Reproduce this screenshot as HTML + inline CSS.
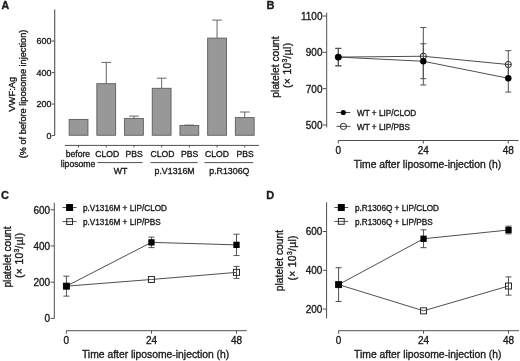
<!DOCTYPE html>
<html><head><meta charset="utf-8"><style>
html,body{margin:0;padding:0;background:#fff;}
body{width:520px;height:361px;overflow:hidden;}
svg{display:block;filter:grayscale(1);font-family:"Liberation Sans", sans-serif;}
</style></head><body>
<svg width="520" height="361" viewBox="0 0 520 361" shape-rendering="auto">
<rect width="520" height="361" fill="#fff"/>
<text x="1.40" y="9.40" font-size="10.6" text-anchor="start" font-weight="bold" fill="#1c1c1c" stroke="#1c1c1c" stroke-width="0.35">A</text>
<line x1="54.70" y1="9.50" x2="54.70" y2="135.60" stroke="#505050" stroke-width="1.1"/>
<line x1="52.00" y1="135.55" x2="54.70" y2="135.55" stroke="#505050" stroke-width="1.0"/>
<text x="51.50" y="138.75" font-size="9" text-anchor="end" font-weight="normal" fill="#1c1c1c" stroke="#1c1c1c" stroke-width="0.35">0</text>
<line x1="52.00" y1="104.05" x2="54.70" y2="104.05" stroke="#505050" stroke-width="1.0"/>
<text x="51.50" y="107.25" font-size="9" text-anchor="end" font-weight="normal" fill="#1c1c1c" stroke="#1c1c1c" stroke-width="0.35">200</text>
<line x1="52.00" y1="72.55" x2="54.70" y2="72.55" stroke="#505050" stroke-width="1.0"/>
<text x="51.50" y="75.75" font-size="9" text-anchor="end" font-weight="normal" fill="#1c1c1c" stroke="#1c1c1c" stroke-width="0.35">400</text>
<line x1="52.00" y1="41.05" x2="54.70" y2="41.05" stroke="#505050" stroke-width="1.0"/>
<text x="51.50" y="44.25" font-size="9" text-anchor="end" font-weight="normal" fill="#1c1c1c" stroke="#1c1c1c" stroke-width="0.35">600</text>
<text x="15.30" y="94.20" font-size="9.4" text-anchor="middle" font-weight="normal" fill="#1c1c1c" stroke="#1c1c1c" stroke-width="0.35" transform="rotate(-90 15.30 94.20)">VWF:Ag</text>
<text x="25.80" y="94.00" font-size="9.2" text-anchor="middle" font-weight="normal" fill="#1c1c1c" stroke="#1c1c1c" stroke-width="0.35" transform="rotate(-90 25.80 94.00)">(% of before liposome injection)</text>
<rect x="69.15" y="119.40" width="18.80" height="15.85" fill="#989898" stroke="#5c5c5c" stroke-width="0.9"/>
<line x1="106.25" y1="62.40" x2="106.25" y2="83.70" stroke="#666" stroke-width="1.0"/>
<line x1="101.45" y1="62.40" x2="111.05" y2="62.40" stroke="#666" stroke-width="1.0"/>
<rect x="96.85" y="83.70" width="18.80" height="51.55" fill="#989898" stroke="#5c5c5c" stroke-width="0.9"/>
<line x1="133.95" y1="116.10" x2="133.95" y2="118.40" stroke="#666" stroke-width="1.0"/>
<line x1="129.15" y1="116.10" x2="138.75" y2="116.10" stroke="#666" stroke-width="1.0"/>
<rect x="124.55" y="118.40" width="18.80" height="16.85" fill="#989898" stroke="#5c5c5c" stroke-width="0.9"/>
<line x1="161.65" y1="78.20" x2="161.65" y2="88.30" stroke="#666" stroke-width="1.0"/>
<line x1="156.85" y1="78.20" x2="166.45" y2="78.20" stroke="#666" stroke-width="1.0"/>
<rect x="152.25" y="88.30" width="18.80" height="46.95" fill="#989898" stroke="#5c5c5c" stroke-width="0.9"/>
<line x1="189.35" y1="125.10" x2="189.35" y2="125.50" stroke="#666" stroke-width="1.0"/>
<line x1="184.55" y1="125.10" x2="194.15" y2="125.10" stroke="#666" stroke-width="1.0"/>
<rect x="179.95" y="125.50" width="18.80" height="9.75" fill="#989898" stroke="#5c5c5c" stroke-width="0.9"/>
<line x1="217.05" y1="20.10" x2="217.05" y2="38.10" stroke="#666" stroke-width="1.0"/>
<line x1="212.25" y1="20.10" x2="221.85" y2="20.10" stroke="#666" stroke-width="1.0"/>
<rect x="207.65" y="38.10" width="18.80" height="97.15" fill="#989898" stroke="#5c5c5c" stroke-width="0.9"/>
<line x1="244.75" y1="112.00" x2="244.75" y2="117.60" stroke="#666" stroke-width="1.0"/>
<line x1="239.95" y1="112.00" x2="249.55" y2="112.00" stroke="#666" stroke-width="1.0"/>
<rect x="235.35" y="117.60" width="18.80" height="17.65" fill="#989898" stroke="#5c5c5c" stroke-width="0.9"/>
<line x1="64.80" y1="145.40" x2="259.00" y2="145.40" stroke="#505050" stroke-width="1"/>
<line x1="78.55" y1="145.40" x2="78.55" y2="147.40" stroke="#505050" stroke-width="1"/>
<text x="77.90" y="156.50" font-size="8.6" text-anchor="middle" font-weight="normal" fill="#1c1c1c" stroke="#1c1c1c" stroke-width="0.35">before</text>
<line x1="106.25" y1="145.40" x2="106.25" y2="147.40" stroke="#505050" stroke-width="1"/>
<text x="107.30" y="156.50" font-size="8.6" text-anchor="middle" font-weight="normal" fill="#1c1c1c" stroke="#1c1c1c" stroke-width="0.35">CLOD</text>
<line x1="133.95" y1="145.40" x2="133.95" y2="147.40" stroke="#505050" stroke-width="1"/>
<text x="134.20" y="156.50" font-size="8.6" text-anchor="middle" font-weight="normal" fill="#1c1c1c" stroke="#1c1c1c" stroke-width="0.35">PBS</text>
<line x1="161.65" y1="145.40" x2="161.65" y2="147.40" stroke="#505050" stroke-width="1"/>
<text x="162.50" y="156.50" font-size="8.6" text-anchor="middle" font-weight="normal" fill="#1c1c1c" stroke="#1c1c1c" stroke-width="0.35">CLOD</text>
<line x1="189.35" y1="145.40" x2="189.35" y2="147.40" stroke="#505050" stroke-width="1"/>
<text x="189.60" y="156.50" font-size="8.6" text-anchor="middle" font-weight="normal" fill="#1c1c1c" stroke="#1c1c1c" stroke-width="0.35">PBS</text>
<line x1="217.05" y1="145.40" x2="217.05" y2="147.40" stroke="#505050" stroke-width="1"/>
<text x="217.00" y="156.50" font-size="8.6" text-anchor="middle" font-weight="normal" fill="#1c1c1c" stroke="#1c1c1c" stroke-width="0.35">CLOD</text>
<line x1="244.75" y1="145.40" x2="244.75" y2="147.40" stroke="#505050" stroke-width="1"/>
<text x="245.10" y="156.50" font-size="8.6" text-anchor="middle" font-weight="normal" fill="#1c1c1c" stroke="#1c1c1c" stroke-width="0.35">PBS</text>
<text x="78.00" y="166.60" font-size="8.6" text-anchor="middle" font-weight="normal" fill="#1c1c1c" stroke="#1c1c1c" stroke-width="0.35">liposome</text>
<line x1="97.50" y1="162.60" x2="142.50" y2="162.60" stroke="#505050" stroke-width="1"/>
<text x="120.50" y="173.80" font-size="8.8" text-anchor="middle" font-weight="normal" fill="#1c1c1c" stroke="#1c1c1c" stroke-width="0.35">WT</text>
<line x1="150.50" y1="162.60" x2="197.70" y2="162.60" stroke="#505050" stroke-width="1"/>
<text x="174.60" y="173.80" font-size="8.8" text-anchor="middle" font-weight="normal" fill="#1c1c1c" stroke="#1c1c1c" stroke-width="0.35">p.V1316M</text>
<line x1="204.50" y1="162.60" x2="253.20" y2="162.60" stroke="#505050" stroke-width="1"/>
<text x="229.35" y="173.80" font-size="8.8" text-anchor="middle" font-weight="normal" fill="#1c1c1c" stroke="#1c1c1c" stroke-width="0.35">p.R1306Q</text>
<text x="266.60" y="9.20" font-size="11" text-anchor="start" font-weight="bold" fill="#1c1c1c" stroke="#1c1c1c" stroke-width="0.35">B</text>
<line x1="326.70" y1="12.60" x2="326.70" y2="127.40" stroke="#505050" stroke-width="1"/>
<line x1="322.90" y1="16.00" x2="326.70" y2="16.00" stroke="#505050" stroke-width="1"/>
<text x="322.50" y="19.90" font-size="10" text-anchor="end" font-weight="normal" fill="#1c1c1c" stroke="#1c1c1c" stroke-width="0.35">1100</text>
<line x1="322.90" y1="52.33" x2="326.70" y2="52.33" stroke="#505050" stroke-width="1"/>
<text x="322.50" y="56.23" font-size="10" text-anchor="end" font-weight="normal" fill="#1c1c1c" stroke="#1c1c1c" stroke-width="0.35">900</text>
<line x1="322.90" y1="88.67" x2="326.70" y2="88.67" stroke="#505050" stroke-width="1"/>
<text x="322.50" y="92.57" font-size="10" text-anchor="end" font-weight="normal" fill="#1c1c1c" stroke="#1c1c1c" stroke-width="0.35">700</text>
<line x1="322.90" y1="125.00" x2="326.70" y2="125.00" stroke="#505050" stroke-width="1"/>
<text x="322.50" y="128.90" font-size="10" text-anchor="end" font-weight="normal" fill="#1c1c1c" stroke="#1c1c1c" stroke-width="0.35">500</text>
<line x1="338.30" y1="140.50" x2="518.60" y2="140.50" stroke="#505050" stroke-width="1"/>
<line x1="338.30" y1="140.50" x2="338.30" y2="143.50" stroke="#505050" stroke-width="1"/>
<text x="338.30" y="154.20" font-size="10" text-anchor="middle" font-weight="normal" fill="#1c1c1c" stroke="#1c1c1c" stroke-width="0.35">0</text>
<line x1="423.30" y1="140.50" x2="423.30" y2="143.50" stroke="#505050" stroke-width="1"/>
<text x="423.30" y="154.20" font-size="10" text-anchor="middle" font-weight="normal" fill="#1c1c1c" stroke="#1c1c1c" stroke-width="0.35">24</text>
<line x1="508.30" y1="140.50" x2="508.30" y2="143.50" stroke="#505050" stroke-width="1"/>
<text x="508.30" y="154.20" font-size="10" text-anchor="middle" font-weight="normal" fill="#1c1c1c" stroke="#1c1c1c" stroke-width="0.35">48</text>
<text x="427.50" y="168.10" font-size="10.35" text-anchor="middle" font-weight="normal" fill="#1c1c1c" stroke="#1c1c1c" stroke-width="0.35">Time after liposome-injection (h)</text>
<text x="278.90" y="67.00" font-size="10.3" text-anchor="middle" font-weight="normal" fill="#1c1c1c" stroke="#1c1c1c" stroke-width="0.35" transform="rotate(-90 278.90 67.00)">platelet count</text>
<text x="290.70" y="65.40" font-size="10.3" text-anchor="middle" font-weight="normal" fill="#1c1c1c" stroke="#1c1c1c" stroke-width="0.35" transform="rotate(-90 290.70 65.40)" textLength="45" lengthAdjust="spacing">(× 10<tspan font-size="6.8" dy="-3.6">3</tspan><tspan dy="3.6">/µl)</tspan></text>
<polyline points="338.30,57.09 423.30,56.26 508.30,64.51" fill="none" stroke="#505050" stroke-width="1"/>
<polyline points="338.30,57.09 423.30,61.25 508.30,78.26" fill="none" stroke="#505050" stroke-width="1"/>
<line x1="338.30" y1="48.37" x2="338.30" y2="65.81" stroke="#505050" stroke-width="1"/>
<line x1="335.30" y1="48.37" x2="341.30" y2="48.37" stroke="#505050" stroke-width="1"/>
<line x1="335.30" y1="65.81" x2="341.30" y2="65.81" stroke="#505050" stroke-width="1"/>
<line x1="423.30" y1="27.55" x2="423.30" y2="84.96" stroke="#505050" stroke-width="1"/>
<line x1="420.30" y1="27.55" x2="426.30" y2="27.55" stroke="#505050" stroke-width="1"/>
<line x1="420.30" y1="84.96" x2="426.30" y2="84.96" stroke="#505050" stroke-width="1"/>
<line x1="508.30" y1="50.70" x2="508.30" y2="78.31" stroke="#505050" stroke-width="1"/>
<line x1="505.30" y1="50.70" x2="511.30" y2="50.70" stroke="#505050" stroke-width="1"/>
<line x1="505.30" y1="78.31" x2="511.30" y2="78.31" stroke="#505050" stroke-width="1"/>
<line x1="338.30" y1="48.37" x2="338.30" y2="65.81" stroke="#505050" stroke-width="1"/>
<line x1="335.30" y1="48.37" x2="341.30" y2="48.37" stroke="#505050" stroke-width="1"/>
<line x1="335.30" y1="65.81" x2="341.30" y2="65.81" stroke="#505050" stroke-width="1"/>
<line x1="423.30" y1="43.81" x2="423.30" y2="78.69" stroke="#505050" stroke-width="1"/>
<line x1="420.30" y1="43.81" x2="426.30" y2="43.81" stroke="#505050" stroke-width="1"/>
<line x1="420.30" y1="78.69" x2="426.30" y2="78.69" stroke="#505050" stroke-width="1"/>
<line x1="508.30" y1="64.45" x2="508.30" y2="92.07" stroke="#505050" stroke-width="1"/>
<line x1="505.30" y1="64.45" x2="511.30" y2="64.45" stroke="#505050" stroke-width="1"/>
<line x1="505.30" y1="92.07" x2="511.30" y2="92.07" stroke="#505050" stroke-width="1"/>
<circle cx="338.30" cy="57.09" r="3.10" fill="none" stroke="#2a2a2a" stroke-width="1"/>
<circle cx="423.30" cy="56.26" r="3.10" fill="none" stroke="#2a2a2a" stroke-width="1"/>
<circle cx="508.30" cy="64.51" r="3.10" fill="none" stroke="#2a2a2a" stroke-width="1"/>
<circle cx="338.30" cy="57.09" r="3.20" fill="#000"/>
<circle cx="423.30" cy="61.25" r="3.20" fill="#000"/>
<circle cx="508.30" cy="78.26" r="3.20" fill="#000"/>
<line x1="336.30" y1="112.50" x2="350.30" y2="112.50" stroke="#505050" stroke-width="1"/>
<circle cx="343.30" cy="112.50" r="2.60" fill="#000"/>
<text x="357.00" y="116.10" font-size="8.2" text-anchor="start" font-weight="normal" fill="#1c1c1c" stroke="#1c1c1c" stroke-width="0.35">WT + LIP/CLOD</text>
<line x1="336.40" y1="126.40" x2="350.40" y2="126.40" stroke="#505050" stroke-width="1"/>
<circle cx="343.40" cy="126.40" r="3.10" fill="none" stroke="#2a2a2a" stroke-width="1"/>
<text x="357.00" y="130.00" font-size="8.2" text-anchor="start" font-weight="normal" fill="#1c1c1c" stroke="#1c1c1c" stroke-width="0.35">WT + LIP/PBS</text>
<text x="1.00" y="198.80" font-size="11" text-anchor="start" font-weight="bold" fill="#1c1c1c" stroke="#1c1c1c" stroke-width="0.35">C</text>
<line x1="54.30" y1="202.80" x2="54.30" y2="318.50" stroke="#505050" stroke-width="1"/>
<line x1="50.50" y1="318.40" x2="54.30" y2="318.40" stroke="#505050" stroke-width="1"/>
<text x="50.10" y="322.30" font-size="10" text-anchor="end" font-weight="normal" fill="#1c1c1c" stroke="#1c1c1c" stroke-width="0.35">0</text>
<line x1="50.50" y1="282.18" x2="54.30" y2="282.18" stroke="#505050" stroke-width="1"/>
<text x="50.10" y="286.08" font-size="10" text-anchor="end" font-weight="normal" fill="#1c1c1c" stroke="#1c1c1c" stroke-width="0.35">200</text>
<line x1="50.50" y1="245.96" x2="54.30" y2="245.96" stroke="#505050" stroke-width="1"/>
<text x="50.10" y="249.86" font-size="10" text-anchor="end" font-weight="normal" fill="#1c1c1c" stroke="#1c1c1c" stroke-width="0.35">400</text>
<line x1="50.50" y1="209.74" x2="54.30" y2="209.74" stroke="#505050" stroke-width="1"/>
<text x="50.10" y="213.64" font-size="10" text-anchor="end" font-weight="normal" fill="#1c1c1c" stroke="#1c1c1c" stroke-width="0.35">600</text>
<line x1="66.40" y1="330.70" x2="246.80" y2="330.70" stroke="#505050" stroke-width="1"/>
<line x1="66.40" y1="330.70" x2="66.40" y2="333.70" stroke="#505050" stroke-width="1"/>
<text x="66.40" y="344.40" font-size="10" text-anchor="middle" font-weight="normal" fill="#1c1c1c" stroke="#1c1c1c" stroke-width="0.35">0</text>
<line x1="151.45" y1="330.70" x2="151.45" y2="333.70" stroke="#505050" stroke-width="1"/>
<text x="151.45" y="344.40" font-size="10" text-anchor="middle" font-weight="normal" fill="#1c1c1c" stroke="#1c1c1c" stroke-width="0.35">24</text>
<line x1="236.50" y1="330.70" x2="236.50" y2="333.70" stroke="#505050" stroke-width="1"/>
<text x="236.50" y="344.40" font-size="10" text-anchor="middle" font-weight="normal" fill="#1c1c1c" stroke="#1c1c1c" stroke-width="0.35">48</text>
<text x="155.60" y="358.30" font-size="10.35" text-anchor="middle" font-weight="normal" fill="#1c1c1c" stroke="#1c1c1c" stroke-width="0.35">Time after liposome-injection (h)</text>
<text x="11.20" y="257.00" font-size="10.3" text-anchor="middle" font-weight="normal" fill="#1c1c1c" stroke="#1c1c1c" stroke-width="0.35" transform="rotate(-90 11.20 257.00)">platelet count</text>
<text x="23.00" y="255.40" font-size="10.3" text-anchor="middle" font-weight="normal" fill="#1c1c1c" stroke="#1c1c1c" stroke-width="0.35" transform="rotate(-90 23.00 255.40)" textLength="45" lengthAdjust="spacing">(× 10<tspan font-size="6.8" dy="-3.6">3</tspan><tspan dy="3.6">/µl)</tspan></text>
<polyline points="66.40,286.16 151.45,279.48 236.50,272.38" fill="none" stroke="#505050" stroke-width="1"/>
<polyline points="66.40,286.16 151.45,242.36 236.50,244.87" fill="none" stroke="#505050" stroke-width="1"/>
<line x1="236.50" y1="266.41" x2="236.50" y2="278.36" stroke="#505050" stroke-width="1"/>
<line x1="233.50" y1="266.41" x2="239.50" y2="266.41" stroke="#505050" stroke-width="1"/>
<line x1="233.50" y1="278.36" x2="239.50" y2="278.36" stroke="#505050" stroke-width="1"/>
<line x1="66.40" y1="276.20" x2="66.40" y2="296.12" stroke="#505050" stroke-width="1"/>
<line x1="63.40" y1="276.20" x2="69.40" y2="276.20" stroke="#505050" stroke-width="1"/>
<line x1="63.40" y1="296.12" x2="69.40" y2="296.12" stroke="#505050" stroke-width="1"/>
<line x1="151.45" y1="237.10" x2="151.45" y2="247.61" stroke="#505050" stroke-width="1"/>
<line x1="148.45" y1="237.10" x2="154.45" y2="237.10" stroke="#505050" stroke-width="1"/>
<line x1="148.45" y1="247.61" x2="154.45" y2="247.61" stroke="#505050" stroke-width="1"/>
<line x1="236.50" y1="234.19" x2="236.50" y2="255.56" stroke="#505050" stroke-width="1"/>
<line x1="233.50" y1="234.19" x2="239.50" y2="234.19" stroke="#505050" stroke-width="1"/>
<line x1="233.50" y1="255.56" x2="239.50" y2="255.56" stroke="#505050" stroke-width="1"/>
<rect x="63.40" y="283.16" width="6.00" height="6.00" fill="none" stroke="#2a2a2a" stroke-width="1"/>
<rect x="148.45" y="276.48" width="6.00" height="6.00" fill="none" stroke="#2a2a2a" stroke-width="1"/>
<rect x="233.50" y="269.38" width="6.00" height="6.00" fill="none" stroke="#2a2a2a" stroke-width="1"/>
<rect x="63.25" y="283.01" width="6.30" height="6.30" fill="#000"/>
<rect x="148.30" y="239.21" width="6.30" height="6.30" fill="#000"/>
<rect x="233.35" y="241.72" width="6.30" height="6.30" fill="#000"/>
<line x1="62.60" y1="207.50" x2="76.60" y2="207.50" stroke="#505050" stroke-width="1"/>
<rect x="66.10" y="204.00" width="7.00" height="7.00" fill="#000"/>
<text x="83.00" y="211.10" font-size="8.2" text-anchor="start" font-weight="normal" fill="#1c1c1c" stroke="#1c1c1c" stroke-width="0.35">p.V1316M + LIP/CLOD</text>
<line x1="62.60" y1="221.60" x2="76.60" y2="221.60" stroke="#505050" stroke-width="1"/>
<rect x="66.70" y="218.70" width="5.80" height="5.80" fill="none" stroke="#2a2a2a" stroke-width="1"/>
<text x="83.00" y="225.20" font-size="8.2" text-anchor="start" font-weight="normal" fill="#1c1c1c" stroke="#1c1c1c" stroke-width="0.35">p.V1316M + LIP/PBS</text>
<text x="266.20" y="198.80" font-size="11" text-anchor="start" font-weight="bold" fill="#1c1c1c" stroke="#1c1c1c" stroke-width="0.35">D</text>
<line x1="326.60" y1="202.20" x2="326.60" y2="318.40" stroke="#505050" stroke-width="1"/>
<line x1="322.80" y1="309.10" x2="326.60" y2="309.10" stroke="#505050" stroke-width="1"/>
<text x="322.40" y="313.00" font-size="10" text-anchor="end" font-weight="normal" fill="#1c1c1c" stroke="#1c1c1c" stroke-width="0.35">200</text>
<line x1="322.80" y1="270.30" x2="326.60" y2="270.30" stroke="#505050" stroke-width="1"/>
<text x="322.40" y="274.20" font-size="10" text-anchor="end" font-weight="normal" fill="#1c1c1c" stroke="#1c1c1c" stroke-width="0.35">400</text>
<line x1="322.80" y1="231.50" x2="326.60" y2="231.50" stroke="#505050" stroke-width="1"/>
<text x="322.40" y="235.40" font-size="10" text-anchor="end" font-weight="normal" fill="#1c1c1c" stroke="#1c1c1c" stroke-width="0.35">600</text>
<line x1="338.60" y1="330.70" x2="519.00" y2="330.70" stroke="#505050" stroke-width="1"/>
<line x1="338.60" y1="330.70" x2="338.60" y2="333.70" stroke="#505050" stroke-width="1"/>
<text x="338.60" y="344.40" font-size="10" text-anchor="middle" font-weight="normal" fill="#1c1c1c" stroke="#1c1c1c" stroke-width="0.35">0</text>
<line x1="423.55" y1="330.70" x2="423.55" y2="333.70" stroke="#505050" stroke-width="1"/>
<text x="423.55" y="344.40" font-size="10" text-anchor="middle" font-weight="normal" fill="#1c1c1c" stroke="#1c1c1c" stroke-width="0.35">24</text>
<line x1="508.50" y1="330.70" x2="508.50" y2="333.70" stroke="#505050" stroke-width="1"/>
<text x="508.50" y="344.40" font-size="10" text-anchor="middle" font-weight="normal" fill="#1c1c1c" stroke="#1c1c1c" stroke-width="0.35">48</text>
<text x="427.80" y="358.30" font-size="10.35" text-anchor="middle" font-weight="normal" fill="#1c1c1c" stroke="#1c1c1c" stroke-width="0.35">Time after liposome-injection (h)</text>
<text x="283.30" y="260.50" font-size="10.3" text-anchor="middle" font-weight="normal" fill="#1c1c1c" stroke="#1c1c1c" stroke-width="0.35" transform="rotate(-90 283.30 260.50)">platelet count</text>
<text x="296.00" y="258.00" font-size="10.3" text-anchor="middle" font-weight="normal" fill="#1c1c1c" stroke="#1c1c1c" stroke-width="0.35" transform="rotate(-90 296.00 258.00)" textLength="45" lengthAdjust="spacing">(× 10<tspan font-size="6.8" dy="-3.6">3</tspan><tspan dy="3.6">/µl)</tspan></text>
<polyline points="338.60,284.60 423.55,310.81 508.50,286.01" fill="none" stroke="#505050" stroke-width="1"/>
<polyline points="338.60,284.60 423.55,238.76 508.50,230.01" fill="none" stroke="#505050" stroke-width="1"/>
<line x1="508.50" y1="276.90" x2="508.50" y2="295.13" stroke="#505050" stroke-width="1"/>
<line x1="505.50" y1="276.90" x2="511.50" y2="276.90" stroke="#505050" stroke-width="1"/>
<line x1="505.50" y1="295.13" x2="511.50" y2="295.13" stroke="#505050" stroke-width="1"/>
<line x1="338.60" y1="267.72" x2="338.60" y2="301.48" stroke="#505050" stroke-width="1"/>
<line x1="335.60" y1="267.72" x2="341.60" y2="267.72" stroke="#505050" stroke-width="1"/>
<line x1="335.60" y1="301.48" x2="341.60" y2="301.48" stroke="#505050" stroke-width="1"/>
<line x1="423.55" y1="229.83" x2="423.55" y2="247.68" stroke="#505050" stroke-width="1"/>
<line x1="420.55" y1="229.83" x2="426.55" y2="229.83" stroke="#505050" stroke-width="1"/>
<line x1="420.55" y1="247.68" x2="426.55" y2="247.68" stroke="#505050" stroke-width="1"/>
<line x1="508.50" y1="226.13" x2="508.50" y2="233.89" stroke="#505050" stroke-width="1"/>
<line x1="505.50" y1="226.13" x2="511.50" y2="226.13" stroke="#505050" stroke-width="1"/>
<line x1="505.50" y1="233.89" x2="511.50" y2="233.89" stroke="#505050" stroke-width="1"/>
<rect x="335.60" y="281.60" width="6.00" height="6.00" fill="none" stroke="#2a2a2a" stroke-width="1"/>
<rect x="420.55" y="307.81" width="6.00" height="6.00" fill="none" stroke="#2a2a2a" stroke-width="1"/>
<rect x="505.50" y="283.01" width="6.00" height="6.00" fill="none" stroke="#2a2a2a" stroke-width="1"/>
<rect x="335.45" y="281.45" width="6.30" height="6.30" fill="#000"/>
<rect x="420.40" y="235.61" width="6.30" height="6.30" fill="#000"/>
<rect x="505.35" y="226.86" width="6.30" height="6.30" fill="#000"/>
<line x1="334.30" y1="207.50" x2="348.30" y2="207.50" stroke="#505050" stroke-width="1"/>
<rect x="337.80" y="204.00" width="7.00" height="7.00" fill="#000"/>
<text x="355.00" y="211.10" font-size="8.2" text-anchor="start" font-weight="normal" fill="#1c1c1c" stroke="#1c1c1c" stroke-width="0.35">p.R1306Q + LIP/CLOD</text>
<line x1="334.30" y1="221.40" x2="348.30" y2="221.40" stroke="#505050" stroke-width="1"/>
<rect x="338.40" y="218.50" width="5.80" height="5.80" fill="none" stroke="#2a2a2a" stroke-width="1"/>
<text x="355.00" y="225.00" font-size="8.2" text-anchor="start" font-weight="normal" fill="#1c1c1c" stroke="#1c1c1c" stroke-width="0.35">p.R1306Q + LIP/PBS</text>
</svg>
</body></html>
